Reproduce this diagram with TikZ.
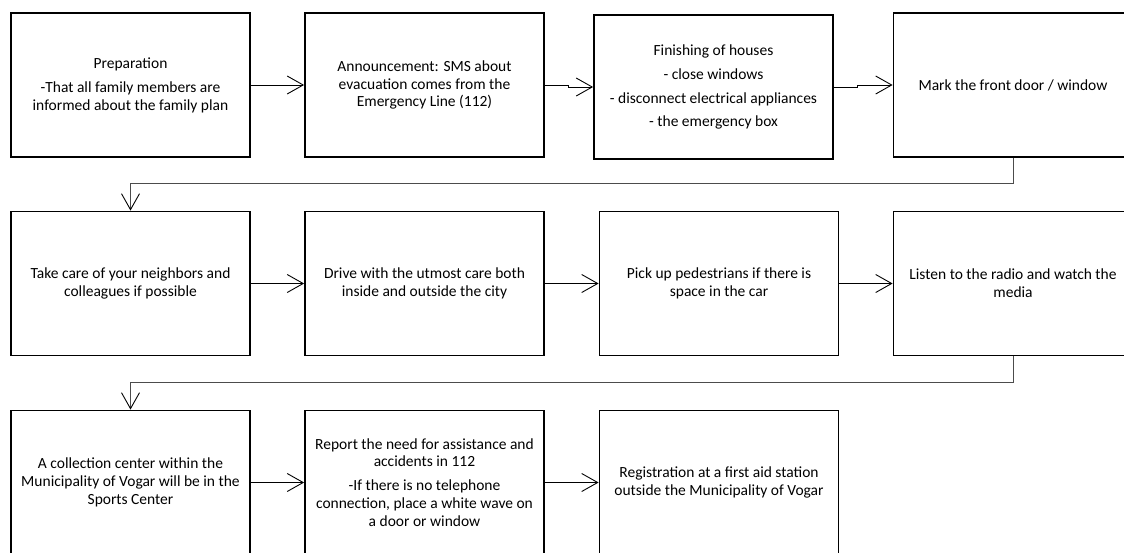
\documentclass[tikz,border=0pt]{standalone}
\usepackage{fontspec}
\setmainfont{Carlito}
\usetikzlibrary{arrows.meta}
\begin{document}
\begin{tikzpicture}[x=1pt,y=-1pt,
  box/.style={draw=black, line width=1.8pt, minimum width=239pt, minimum height=144pt,
    align=center, inner sep=4pt, font=\fontsize{15.5}{17.9}\selectfont},
  arr/.style={line width=0.9pt, -{Straight Barb[length=16pt,width=18pt,line width=0.9pt]}},
  elbow/.style={draw=black!70, line width=0.9pt, -{Straight Barb[length=16pt,width=18pt,line width=0.9pt,color=black]}}]
\useasboundingbox (0,0) rectangle (1124,552);
% row 1
\node[box] (n1) at (130.5,85) {Preparation\\[6pt]-That all family members are\\informed about the family plan};
\node[box] (n2) at (424.5,85) {Announcement: SMS about\\evacuation comes from the\\Emergency Line (112)};
\node[box] (n3) at (713.5,87) {Finishing of houses\\[6pt]- close windows\\[6pt]- disconnect electrical appliances\\[6pt]- the emergency box};
\node[box] (n4) at (1013,85) {Mark the front door / window};
% row 2
\node[box] (n5) at (130.5,283.5) {Take care of your neighbors and\\colleagues if possible};
\node[box] (n6) at (424.5,283.5) {Drive with the utmost care both\\inside and outside the city};
\node[box] (n7) at (719,283.5) {Pick up pedestrians if there is\\space in the car};
\node[box] (n8) at (1013,283.5) {Listen to the radio and watch the\\media};
% row 3
\node[box] (n9) at (130.5,482.5) {A collection center within the\\Municipality of Vogar will be in the\\Sports Center};
\node[box] (n10) at (424.5,482.5) {Report the need for assistance and\\accidents in 112\\[6pt]-If there is no telephone\\connection, place a white wave on\\a door or window};
\node[box] (n11) at (719,482.5) {Registration at a first aid station\\outside the Municipality of Vogar};
% connectors
\draw[arr] (n1.east) -- (n2.west);
\draw[arr] (n2.east) -- ++(24,0) |- (n3.west);
\draw[arr] (n3.east) -- ++(24,0) |- (n4.west);
\draw[elbow] (n4.south) -- ++(0,26) -| (n5.north);
\draw[arr] (n5.east) -- (n6.west);
\draw[arr] (n6.east) -- (n7.west);
\draw[arr] (n7.east) -- (n8.west);
\draw[elbow] (n8.south) -- ++(0,26) -| (n9.north);
\draw[arr] (n9.east) -- (n10.west);
\draw[arr] (n10.east) -- (n11.west);
\end{tikzpicture}
\end{document}
